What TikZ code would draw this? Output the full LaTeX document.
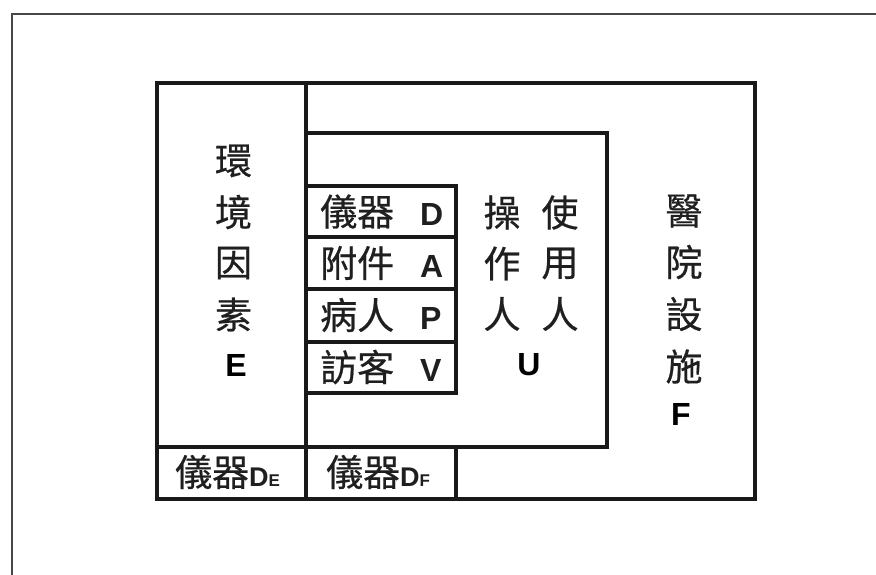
\documentclass[tikz,border=0pt]{standalone}
\usepackage{fontspec}
\newfontfamily\cjk[FakeBold=0.6]{Noto Sans CJK TC}
\newfontfamily\latin{Liberation Sans}
\newcommand{\bigcjk}{\cjk\fontsize{37}{40}\selectfont}
\newcommand{\lat}[1]{{\latin\bfseries\fontsize{32}{34}\selectfont #1}}
\newcommand{\latsub}[2]{{\latin\bfseries\fontsize{27}{30}\selectfont #1\fontsize{17}{18}\selectfont #2}}
\begin{document}
\begin{tikzpicture}[x=1pt,y=-1pt,
  boxline/.style={line width=3.1pt, draw=black!90, line cap=rect},
  frameline/.style={line width=2.2pt, draw=black!72},
  ch/.style={inner sep=0pt, font=\bigcjk, text=black!88},
  lt/.style={inner sep=0pt, text=black},
  rowtxt/.style={inner sep=0pt, anchor=west, font=\bigcjk, text=black!88}]
\useasboundingbox (0,0) rectangle (876,575);
\fill[white] (0,0) rectangle (876,575);
% outer frame (scan edge)
\draw[frameline] (12,575) -- (12,14) -- (876,14);
% main box F
\draw[boxline] (157,83) rectangle (755,499);
% divider E | rest
\draw[boxline] (306,83) -- (306,499);
% user box U
\draw[boxline] (306,133) -- (607,133) -- (607,447) -- (157,447);
% DF right edge
\draw[boxline] (456,447) -- (456,499);
% device stack
\draw[boxline] (306,186) rectangle (456,393);
\draw[boxline] (306,237) -- (456,237);
\draw[boxline] (306,289) -- (456,289);
\draw[boxline] (306,342) -- (456,342);
% environment column
\node[ch] (e1) at (233.5,161) {環};
\node[ch] (e2) at (233.5,212) {境};
\node[ch] (e3) at (233.5,263) {因};
\node[ch] (e4) at (233.5,314.5) {素};
\node[lt] (e5) at (236,365.5) {\lat{E}};
% device rows
\node[rowtxt] (d) at (320,211.5) {儀器\hspace{26pt}\lat{D}};
\node[rowtxt] (a) at (320,263) {附件\hspace{26pt}\lat{A}};
\node[rowtxt] (p) at (320,315) {病人\hspace{26pt}\lat{P}};
\node[rowtxt] (v) at (320,367) {訪客\hspace{26pt}\lat{V}};
% operator / user columns
\node[ch] (o1) at (502,212.5) {操};
\node[ch] (o2) at (502,263.5) {作};
\node[ch] (o3) at (502,314) {人};
\node[ch] (u1) at (560,212.5) {使};
\node[ch] (u2) at (560,263.5) {用};
\node[ch] (u3) at (560,314) {人};
\node[lt] (u4) at (529,365) {\lat{U}};
% facility column
\node[ch] (f1) at (684,211) {醫};
\node[ch] (f2) at (684,262) {院};
\node[ch] (f3) at (684,314) {設};
\node[ch] (f4) at (684,366.5) {施};
\node[lt] (f5) at (681,414.5) {\lat{F}};
% bottom row
\node[rowtxt] (de) at (175,472) {儀器\latsub{D}{E}};
\node[rowtxt] (df) at (326,472) {儀器\latsub{D}{F}};
\end{tikzpicture}
\end{document}
